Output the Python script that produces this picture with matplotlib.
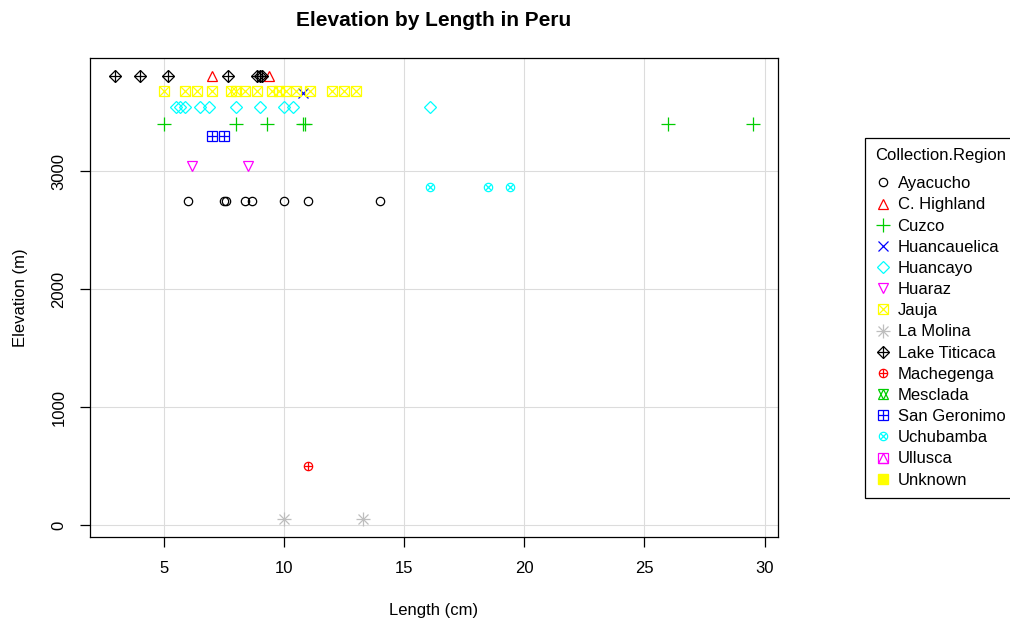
import matplotlib.pyplot as plt
from matplotlib.lines import Line2D

plt.rcParams['font.family'] = ['Liberation Sans', 'DejaVu Sans']

# length (cm) / elevation (m) per collection region
ayacucho_len = [6.0, 7.5, 7.6, 8.4, 8.7, 10.0, 11.0, 14.0]
ayacucho_elev = [2750] * 8
highland_len = [7.0, 9.4]
highland_elev = [3810, 3810]
cuzco_len = [5.0, 8.0, 9.3, 10.8, 10.9, 26.0, 29.5]
cuzco_elev = [3400] * 7
huancauelica_len = [10.8]
huancauelica_elev = [3665]
huancayo_len = [5.5, 5.7, 5.9, 6.5, 6.9, 8.0, 9.0, 10.0, 10.4, 16.1]
huancayo_elev = [3550] * 10
huaraz_len = [6.2, 8.5]
huaraz_elev = [3050, 3050]
jauja_len = [5.0, 5.9, 6.4, 7.0, 7.8, 8.0, 8.4, 8.9, 9.5, 9.8, 10.1, 10.5,
             11.1, 12.0, 12.5, 13.0]
jauja_elev = [3680] * 16
molina_len = [10.0, 13.3]
molina_elev = [50, 50]
titicaca_len = [3.0, 4.0, 5.2, 7.7, 8.9, 9.0, 9.1]
titicaca_elev = [3810] * 7
machegenga_len = [11.0]
machegenga_elev = [500]
mesclada_len = []
mesclada_elev = []
geronimo_len = [7.0, 7.5]
geronimo_elev = [3300, 3300]
uchubamba_len = [16.1, 18.5, 19.4]
uchubamba_elev = [2870] * 3
ullusca_len = []
ullusca_elev = []
unknown_len = []
unknown_elev = []

regions = ["Ayacucho", "C. Highland", "Cuzco", "Huancauelica", "Huancayo",
           "Huaraz", "Jauja", "La Molina", "Lake Titicaca", "Machegenga",
           "Mesclada", "San Geronimo", "Uchubamba", "Ullusca", "Unknown"]
lengths = [ayacucho_len, highland_len, cuzco_len, huancauelica_len, huancayo_len,
           huaraz_len, jauja_len, molina_len, titicaca_len, machegenga_len,
           mesclada_len, geronimo_len, uchubamba_len, ullusca_len, unknown_len]
elevations = [ayacucho_elev, highland_elev, cuzco_elev, huancauelica_elev,
              huancayo_elev, huaraz_elev, jauja_elev, molina_elev, titicaca_elev,
              machegenga_elev, mesclada_elev, geronimo_elev, uchubamba_elev,
              ullusca_elev, unknown_elev]

palette = ["black", "#FF0000", "#00CD00", "#0000FF", "#00FFFF", "#FF00FF",
           "#FFFF00", "#BEBEBE"]

# R-like plotting symbols 1..15, built from overlaid matplotlib markers
symbols = [
    [("o", 6)],
    [("^", 7.5)],
    [("+", 9.5)],
    [("x", 6.5)],
    [("D", 6.5)],
    [("v", 7.5)],
    [("s", 7), ("x", 6.5)],
    [("+", 9.5), ("x", 6.5)],
    [("D", 6.5), ("+", 9)],
    [("o", 6), ("+", 6)],
    [("^", 7.5), ("v", 7.5)],
    [("s", 7), ("+", 7)],
    [("o", 6), ("x", 4.5)],
    [("s", 7), ("^", 7)],
    [("s_fill", 6.5)],
]

fig = plt.figure(figsize=(10.1, 6.25), dpi=100)
ax = fig.add_axes([0.0891, 0.1408, 0.7703 - 0.0891, 0.9072 - 0.1408])

handles = []
for i, name in enumerate(regions):
    col = palette[i % 8]
    parts = []
    for mk, ms in symbols[i]:
        if mk == "s_fill":
            kw = dict(marker="s", markersize=ms, markerfacecolor=col,
                      markeredgecolor=col)
        else:
            kw = dict(marker=mk, markersize=ms, markerfacecolor="none",
                      markeredgecolor=col, markeredgewidth=0.9)
        ax.plot(lengths[i], elevations[i], linestyle="none", zorder=3, **kw)
        parts.append(Line2D([], [], linestyle="none", **kw))
    handles.append(tuple(parts))

ax.set_xlim(1.94, 30.56)
ax.set_ylim(-101, 3962)
ax.set_xticks([5, 10, 15, 20, 25, 30])
ax.set_yticks([0, 1000, 2000, 3000])
ax.grid(True, color="#DCDCDC", linewidth=0.8)
ax.set_axisbelow(True)
for s in ax.spines.values():
    s.set_linewidth(0.9)
ax.tick_params(direction="out", length=7, width=0.9, labelsize=12, pad=10)
for lab in ax.get_yticklabels():
    lab.set_rotation(90)
    lab.set_va("center")

ax.set_xlabel("Length (cm)", fontsize=12, labelpad=20)
ax.set_ylabel("Elevation (m)", fontsize=12, labelpad=17)
ax.set_title("Elevation by Length in Peru", fontsize=15, fontweight="bold",
             pad=23)

leg = ax.legend(handles, regions, title="Collection.Region",
                loc="upper left", bbox_to_anchor=(865 / 1010, 1 - 138 / 625),
                bbox_transform=fig.transFigure, borderaxespad=0,
                frameon=True, fancybox=False, edgecolor="black",
                fontsize=12, title_fontsize=12, alignment="left",
                handlelength=0.9, handletextpad=0.45, labelspacing=0.37,
                borderpad=0.6, framealpha=1)
leg.get_frame().set_linewidth(0.9)
# wider gap between the legend title and the first entry
leg._legend_box.sep = 9.5

fig.savefig("out.png", dpi=100)
